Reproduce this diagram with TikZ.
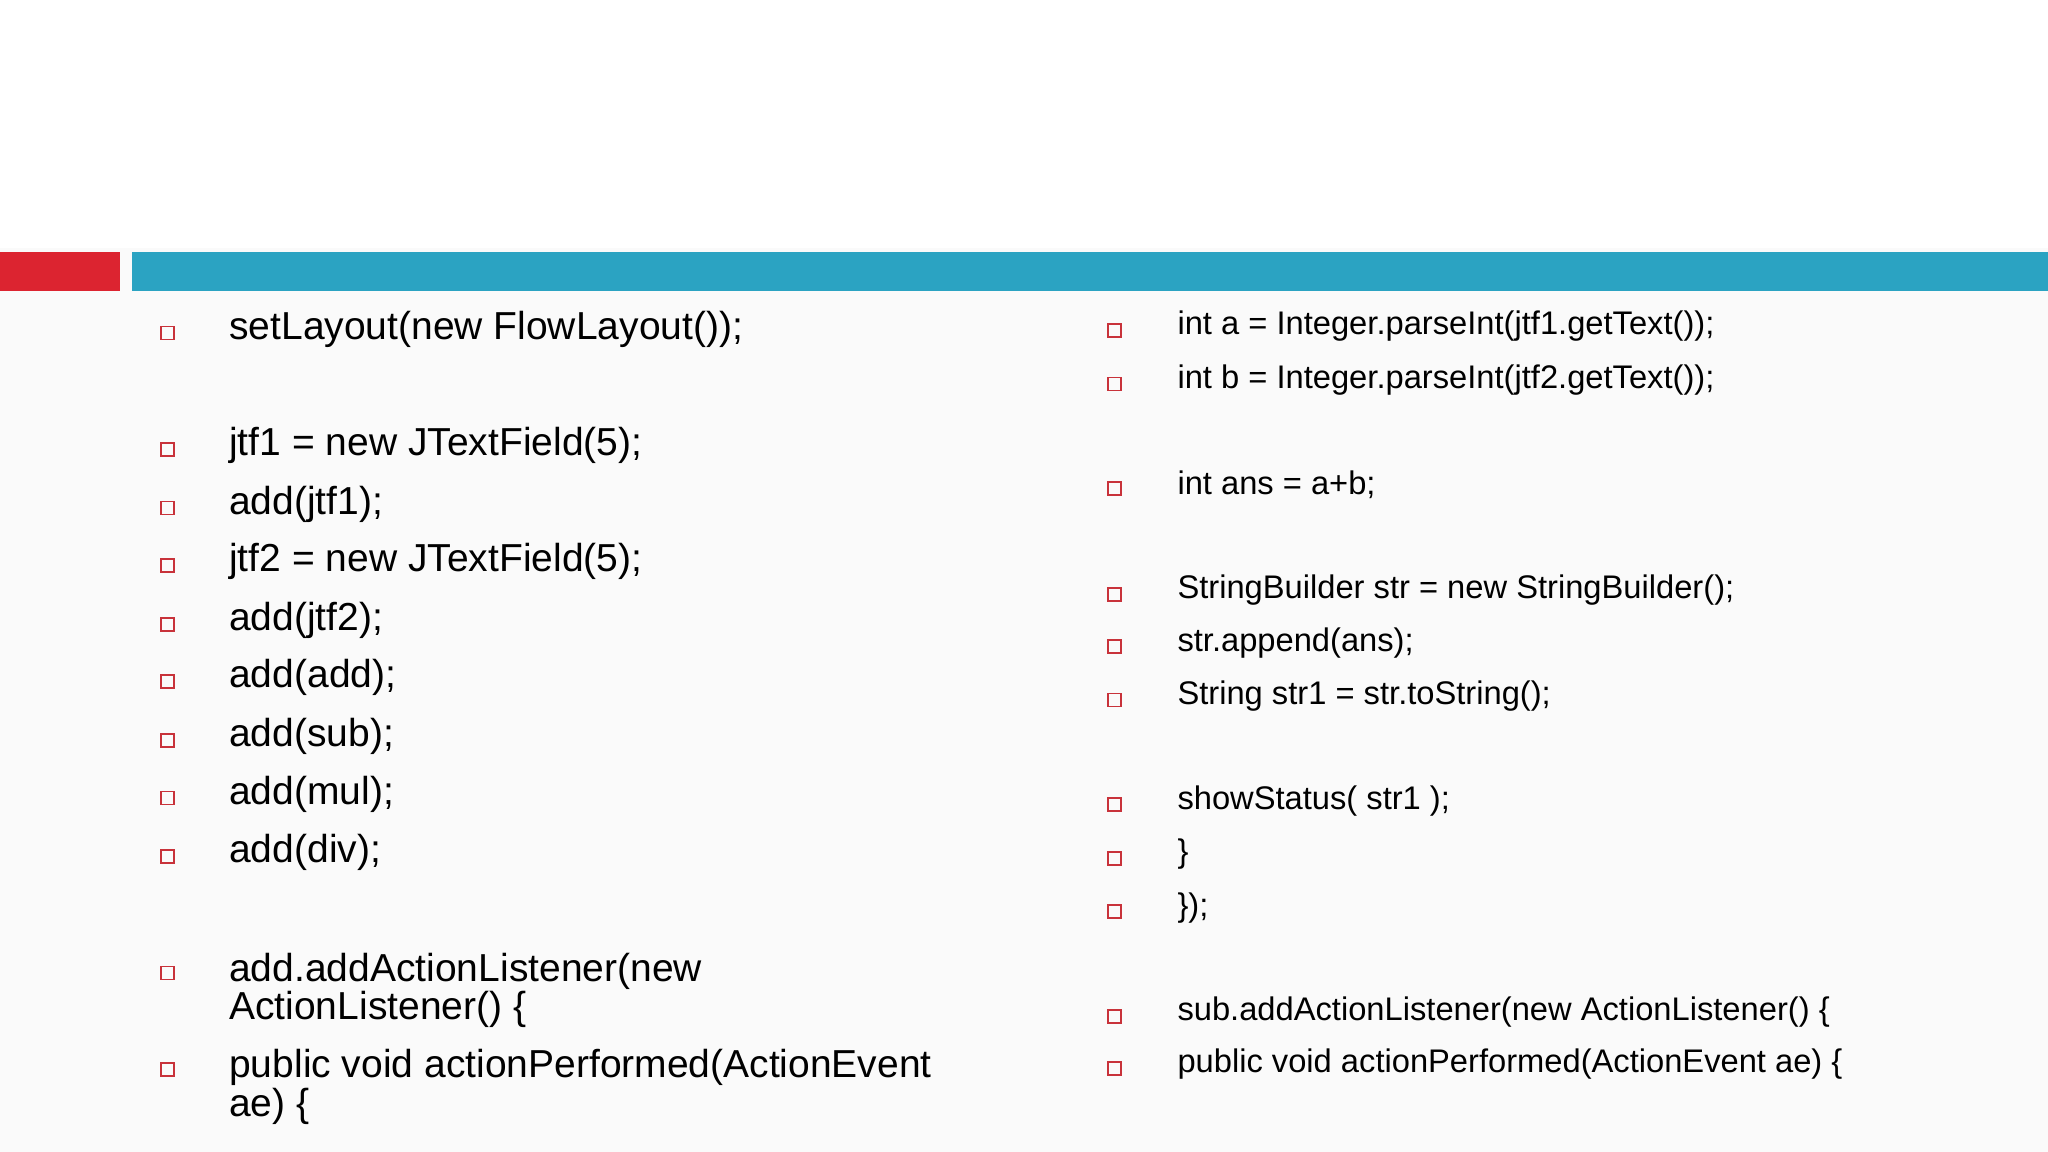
\documentclass[tikz,border=0pt]{standalone}
\usepackage{fontspec}
\setmainfont{Liberation Sans}
\usetikzlibrary{positioning}
\definecolor{barred}{HTML}{DC2430}
\definecolor{barteal}{HTML}{2BA3C2}
\definecolor{bulletred}{HTML}{C8323A}
\tikzset{
  bul/.style={draw=bulletred,line width=0.5pt,minimum size=0.13cm,inner sep=0pt},
  big/.style={anchor=west,inner sep=0pt,font=\fontsize{11.1}{10.9}\selectfont,align=left},
  small/.style={anchor=west,inner sep=0pt,font=\fontsize{9.3}{11}\selectfont}
}
\begin{document}
\begin{tikzpicture}[x=0.01306cm,y=-0.01306cm]
  \useasboundingbox (0,0) rectangle (1568,882);
  \fill[white!98!black] (0,0) rectangle (1568,882);
  \fill[white] (0,0) rectangle (1568,190);
  % bars
  \fill[barred] (0,193) rectangle (92,223);
  \fill[barteal] (101,193) rectangle (1568,223);
  % left column
  \foreach \n/\y/\t in {1/252/{setLayout(new FlowLayout());},
      2/341/{jtf1 = new JTextField(5);},3/386/{add(jtf1);},
      4/430/{jtf2 = new JTextField(5);},5/475/{add(jtf2);},
      6/519/{add(add);},7/564/{add(sub);},8/608/{add(mul);},9/653/{add(div);}}{
    \node[bul] (lb\n) at (128,\y+3) {};
    \node[big] (lt\n) at (175,\y) {\t};
  }
  \node[bul] (lb10) at (128,745) {};
  \node[big,anchor=north west] (lt10) at (175,729) {add.addActionListener(new\\ActionListener() \{};
  \node[bul] (lb11) at (128,819) {};
  \node[big,anchor=north west] (lt11) at (175,803) {public void actionPerformed(ActionEvent\\ae) \{};
  % right column
  \foreach \n/\y/\t in {1/250/{int a = Integer.parseInt(jtf1.getText());},
      2/291/{int b = Integer.parseInt(jtf2.getText());},
      3/371/{int ans = a+b;},
      4/452/{StringBuilder str = new StringBuilder();},
      5/492/{str.append(ans);},6/533/{String str1 = str.toString();},
      7/613/{showStatus( str1 );},8/654/{\}},9/695/{\});},
      10/775/{sub.addActionListener(new ActionListener() \{},
      11/815/{public void actionPerformed(ActionEvent ae) \{}}{
    \node[bul] (rb\n) at (853,\y+3) {};
    \node[small] (rt\n) at (901,\y) {\t};
  }
\end{tikzpicture}
\end{document}
